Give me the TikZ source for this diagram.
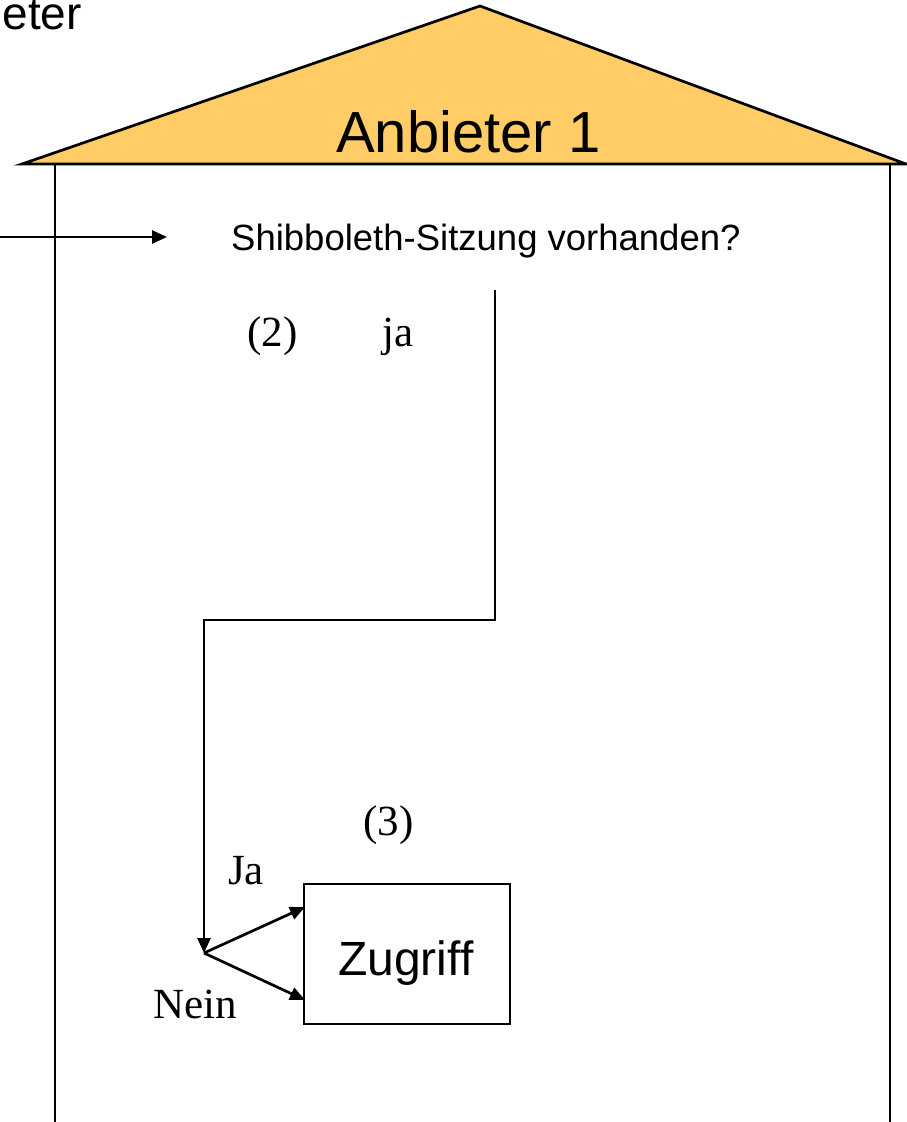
\documentclass[tikz,border=0pt]{standalone}
\usepackage{fontspec}
\setmainfont{Liberation Sans}
\newfontfamily\timesfont{Liberation Serif}
\usetikzlibrary{arrows.meta}
\definecolor{housefill}{HTML}{FFCC66}
\tikzset{
  ln/.style={line width=2.7pt},
  arr/.style={ln,-{Triangle[length=15pt,width=13pt]}},
  sanslbl/.style={inner sep=0pt,anchor=base west},
  seriflbl/.style={inner sep=0pt,anchor=base west,font=\timesfont\fontsize{43}{46}\selectfont},
}
\begin{document}
\begin{tikzpicture}[x=1pt,y=-1pt]
\useasboundingbox (0,0) rectangle (906,1122);
% house roof and walls
\draw[ln,fill=housefill,line join=miter] (22,164) -- (480,6) -- (906,164) -- cycle;
\draw[ln] (55,164) -- (55,1124);
\draw[ln] (890,164) -- (890,1124);
% texts
\node[inner sep=0pt,anchor=base east,font=\fontsize{46}{50}\selectfont] (prev) at (82,29) {eter};
\node[sanslbl,font=\fontsize{58}{62}\selectfont] (title) at (336,152) {Anbieter 1};
\node[sanslbl,font=\fontsize{36.5}{40}\selectfont] (q) at (231,250) {Shibboleth-Sitzung vorhanden?};
\node[seriflbl] (n2) at (247,346) {(2)};
\node[seriflbl] (ja) at (382,346) {ja};
\node[seriflbl] (n3) at (363,835) {(3)};
\node[seriflbl] (Ja) at (228,884) {Ja};
\node[seriflbl] (nein) at (153,1018) {Nein};
% Zugriff box
\node[draw,line width=2.8pt,minimum width=206pt,minimum height=140pt,inner sep=0pt] (zbox) at (407,954) {};
\node[sanslbl,font=\fontsize{48}{52}\selectfont] (ztext) at (338,975) {Zugriff};
% connectors
\coordinate (inL) at (-2,237);
\coordinate (inR) at (167,237);
\draw[arr] (inL) -- (inR);
\coordinate (s1) at (495,290);
\coordinate (c1) at (495,620);
\coordinate (c2) at (204,620);
\coordinate (fork) at (204,953);
\draw[arr,line join=miter] (s1) -- (c1) -- (c2) -- (fork);
\coordinate (zin1) at (305,907);
\coordinate (zin2) at (305,1000);
\draw[arr] (fork) -- (zin1);
\draw[arr] (fork) -- (zin2);
\end{tikzpicture}
\end{document}
